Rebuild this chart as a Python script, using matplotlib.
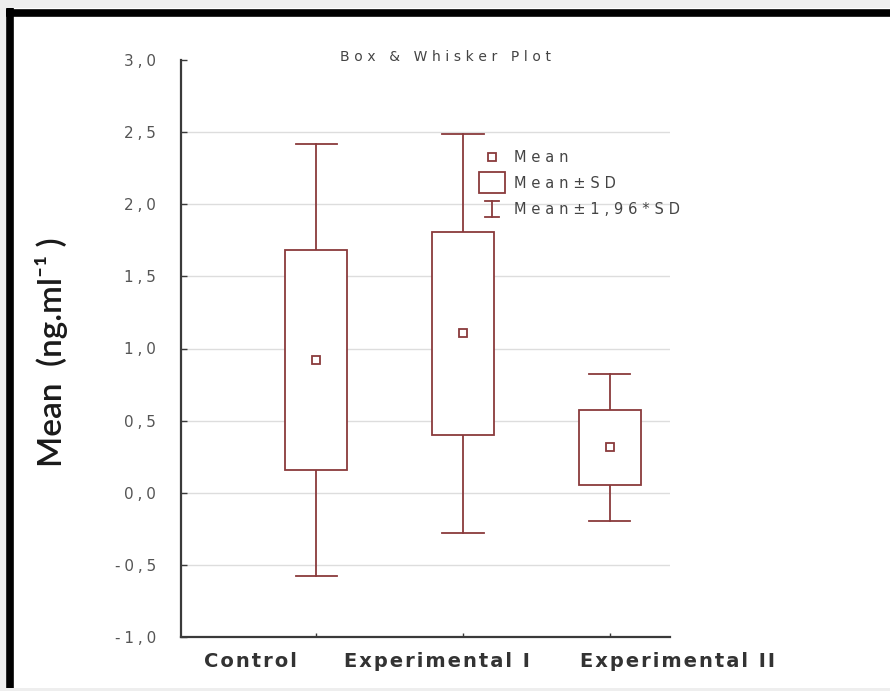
import matplotlib.pyplot as plt
import matplotlib.patches as mpatches
from matplotlib.ticker import FuncFormatter

# group summary statistics (ng/ml)
groups = ['Control', 'Experimental I', 'Experimental II']
means = [0.92, 1.105, 0.316]
sds = [0.765, 0.705, 0.26]
z_whisker = 1.96

line_col = '#8a3a3c'
axis_col = '#3a3a3a'
wide_font = ['DejaVu Sans']


def spaced(s, sep='\u2004'):
    # Statistica-style labels: wide lettering with open tracking
    return sep.join(s)


fig = plt.figure(figsize=(8.9, 6.91), dpi=100, facecolor='#eeeeee')

# white panel with thick black frame on the top and left
panel = fig.add_axes([6 / 890, 3 / 691, 884 / 890, 680 / 691])
panel.set_xlim(0, 1)
panel.set_ylim(0, 1)
panel.axis('off')
panel.add_patch(mpatches.Rectangle((0, 0), 1, 1, facecolor='white', edgecolor='none'))
panel.plot([0.004, 0.004], [0, 1], color='black', lw=5.5, solid_capstyle='butt')
panel.plot([0, 1], [0.993, 0.993], color='black', lw=5.5, solid_capstyle='butt')

ax = fig.add_axes([181 / 890, 1 - 637 / 691, (670 - 181) / 890, (637 - 60) / 691])
ax.set_facecolor('none')

pos = [1, 2, 3]
box_w = 0.42
cap_w = 0.28
for x, m, s in zip(pos, means, sds):
    lo, hi = m - s, m + s
    wlo, whi = m - z_whisker * s, m + z_whisker * s
    # whiskers and caps
    ax.plot([x, x], [hi, whi], color=line_col, lw=1.3, zorder=3)
    ax.plot([x, x], [wlo, lo], color=line_col, lw=1.3, zorder=3)
    ax.plot([x - cap_w / 2, x + cap_w / 2], [whi, whi], color=line_col, lw=1.3, zorder=3)
    ax.plot([x - cap_w / 2, x + cap_w / 2], [wlo, wlo], color=line_col, lw=1.3, zorder=3)
    # mean +/- SD box
    ax.add_patch(mpatches.Rectangle((x - box_w / 2, lo), box_w, hi - lo,
                                    facecolor='white', edgecolor=line_col, lw=1.3, zorder=3))
    # mean marker
    ax.plot(x, m, marker='s', ms=6, mfc='white', mec=line_col, mew=1.3, zorder=4)

ax.set_xlim(0.08, 3.41)
ax.set_ylim(-1.0, 3.0)
ax.set_yticks([-1.0, -0.5, 0.0, 0.5, 1.0, 1.5, 2.0, 2.5, 3.0])
ax.yaxis.set_major_formatter(FuncFormatter(lambda v, p: spaced(f'{v:.1f}'.replace('.', ','), '\u2005')))
ax.set_xticks(pos)
ax.set_xticklabels([])
ax.tick_params(axis='y', direction='in', length=4, width=1, colors=axis_col,
               labelcolor='#555555', labelsize=11, pad=18)
ax.tick_params(axis='x', direction='in', length=3, width=1, colors=axis_col)
for lab in ax.get_yticklabels():
    lab.set_family(wide_font)

ax.grid(axis='y', color='#dddddd', lw=1)
ax.set_axisbelow(True)
glines = ax.get_ygridlines()
glines[0].set_visible(False)
glines[-1].set_visible(False)

for side in ['top', 'right']:
    ax.spines[side].set_visible(False)
for side in ['left', 'bottom']:
    ax.spines[side].set_color(axis_col)
    ax.spines[side].set_linewidth(1.6)

# group names under the axis
label_x = [0.55, 1.82, 3.46]
for x, name in zip(label_x, groups):
    ax.text(x, -1.17, spaced(name, '\u200a'), ha='center', va='center', fontsize=14,
            fontweight='bold', family=wide_font, color='#333333')

fig.text(445 / 890, 1 - 57 / 691, spaced('Box & Whisker Plot'),
         ha='center', va='center', fontsize=10, family=wide_font, color='#444444')

fig.text(52 / 890, 1 - 352 / 691, 'Mean  (ng.ml\u207b\u00b9 )', rotation=90,
         ha='center', va='center', fontsize=24, fontweight='semibold',
         family=['Lato', 'DejaVu Sans'], color='#1a1a1a')

# legend drawn in axes coordinates
lx = (492 - 181) / 489
def ay(py):
    return (637 - py) / 577

ax.plot(lx, ay(157), transform=ax.transAxes, marker='s', ms=6, mfc='white',
        mec=line_col, mew=1.3, clip_on=False)
ax.add_patch(mpatches.Rectangle((lx - 0.027, ay(193)), 0.054, ay(172) - ay(193),
                                transform=ax.transAxes, facecolor='white',
                                edgecolor=line_col, lw=1.3, clip_on=False))
ax.plot([lx, lx], [ay(201), ay(217)], transform=ax.transAxes, color=line_col, lw=1.3)
ax.plot([lx - 0.015, lx + 0.015], [ay(201), ay(201)], transform=ax.transAxes, color=line_col, lw=1.3)
ax.plot([lx - 0.015, lx + 0.015], [ay(217), ay(217)], transform=ax.transAxes, color=line_col, lw=1.3)
for py, txt in [(157, 'Mean'), (183, 'Mean±SD'), (209, 'Mean±1,96*SD')]:
    ax.text((514 - 181) / 489, ay(py), spaced(txt), transform=ax.transAxes, ha='left',
            va='center', fontsize=10.5, family=wide_font, color='#444444')

fig.savefig('out.png', dpi=100, facecolor=fig.get_facecolor())
